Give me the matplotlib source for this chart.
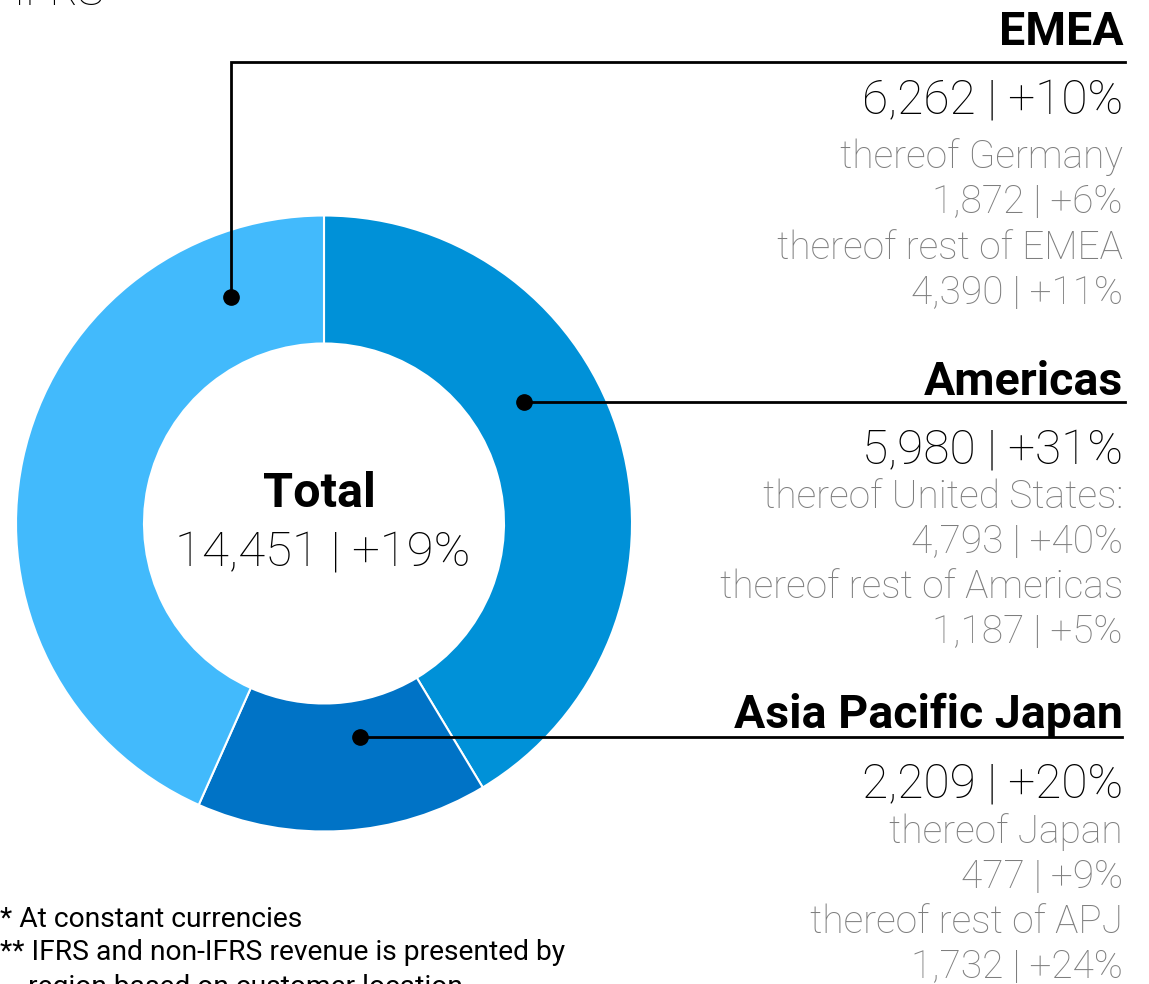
import matplotlib
matplotlib.use("Agg")
import matplotlib.pyplot as plt

# ---- data ----
regions = ["Americas", "Asia Pacific Japan", "EMEA"]
values = [5980, 2209, 6262]
colors = ["#0091D8", "#0073C6", "#42BAFC"]
total_value = "14,451"
total_growth = "+19%"

region_lines = {
    "EMEA": ["6,262 | +10%", "thereof Germany", "1,872 | +6%",
             "thereof rest of EMEA", "4,390 | +11%"],
    "Americas": ["5,980 | +31%", "thereof United States:", "4,793 | +40%",
                 "thereof rest of Americas", "1,187 | +5%"],
    "Asia Pacific Japan": ["2,209 | +20%", "thereof Japan", "477 | +9%",
                           "thereof rest of APJ", "1,732 | +24%"],
}
footnotes = ["* At constant currencies",
             "** IFRS and non-IFRS revenue is presented by",
             "    region based on customer location"]

W, H = 1149, 984
fig = plt.figure(figsize=(W / 100, H / 100), dpi=100)
ax = fig.add_axes([0, 0, 1, 1])
ax.set_xlim(0, W)
ax.set_ylim(0, H)
ax.set_aspect("equal")
ax.axis("off")

def Y(py):
    return H - py

FONT = "Roboto"
cx, cy, R, ring = 324, 523.5, 308, 128

ax.pie(values, colors=colors, startangle=90, counterclock=False,
       radius=R, center=(cx, Y(cy)),
       wedgeprops=dict(width=ring, edgecolor="white", linewidth=1.5))
ax.set_xlim(0, W)
ax.set_ylim(0, H)

# centre text
ax.text(319, Y(507), "Total", ha="center", va="baseline", fontsize=35,
        fontweight="bold", family=FONT, color="black")
ax.text(323, Y(565), f"{total_value} | {total_growth}", ha="center",
        va="baseline", fontsize=35.5, fontweight="light", family=FONT,
        color="black")

# leader lines
lw = 2.0
ax.plot([231, 231, 1125], [Y(297), Y(62), Y(62)], color="black", lw=lw,
        solid_joinstyle="miter")
ax.plot([231], [Y(297)], "o", color="black", ms=11)
ax.plot([524, 1125], [Y(402), Y(402)], color="black", lw=lw)
ax.plot([524], [Y(402)], "o", color="black", ms=11)
ax.plot([360, 1122], [Y(737), Y(737)], color="black", lw=lw)
ax.plot([360], [Y(737)], "o", color="black", ms=11)

XR = 1123
gray = "#7E7E7E"
layout = {
    "EMEA": (45, [113, 168, 213, 259, 304]),
    "Americas": (395, [463, 508, 553, 598, 643]),
    "Asia Pacific Japan": (728, [798, 843, 888, 933, 978]),
}
for name in ["EMEA", "Americas", "Asia Pacific Japan"]:
    hy, ys = layout[name]
    ax.text(XR, Y(hy), name, ha="right", va="baseline", fontsize=33.5,
            fontweight="bold", family=FONT, color="black")
    lines = region_lines[name]
    for i, (txt, yy) in enumerate(zip(lines, ys)):
        if i == 0:
            ax.text(XR, Y(yy), txt, ha="right", va="baseline", fontsize=34.5,
                    fontweight="light", family=FONT, color="black")
        else:
            ax.text(XR, Y(yy), txt, ha="right", va="baseline", fontsize=28,
                    fontweight="light", family=FONT, color=gray)

# top-left cut-off label
ax.text(14, Y(5), "IFRS", ha="left", va="baseline", fontsize=31,
        fontweight="light", family=FONT, color="black")

# footnotes
for txt, yy in zip(footnotes, [927, 960, 995]):
    ax.text(0, Y(yy), txt, ha="left", va="baseline", fontsize=20.3,
            family=FONT, color="black")

fig.savefig("out.png", dpi=100)
